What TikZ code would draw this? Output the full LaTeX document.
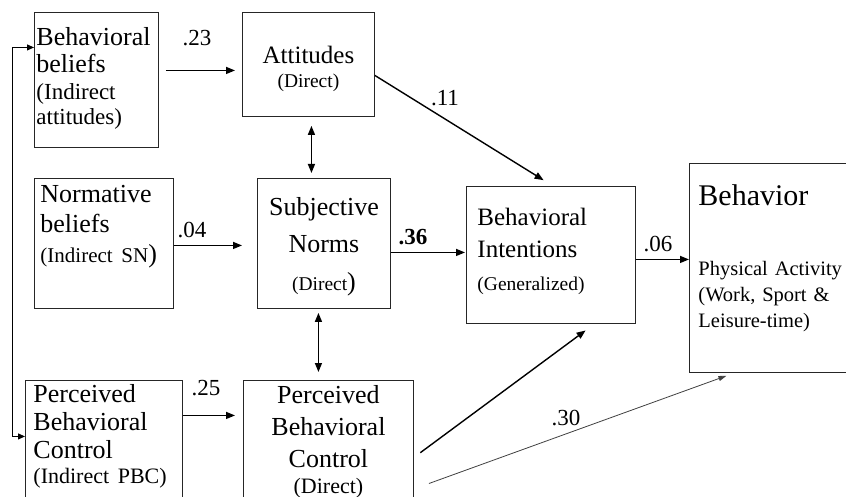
\documentclass[tikz,border=0pt]{standalone}
\usepackage{fontspec}
\setmainfont{Liberation Serif}
\usetikzlibrary{arrows.meta}
\newcommand{\sz}[2]{\fontsize{#1}{#2}\selectfont}

\begin{document}
\begin{tikzpicture}[x=1pt,y=-1pt,
  blk/.style={draw=black!85,line width=0.9pt,inner ysep=0pt,anchor=north west},
  coef/.style={font=\sz{23}{23}},
  arr/.style={-{Triangle[length=9pt,width=7pt]},line width=1.4pt},
  dbl/.style={{Triangle[length=9pt,width=7pt]}-{Triangle[length=9pt,width=7pt]},line width=1.4pt}
]
\useasboundingbox (0,0) rectangle (846,497);
% ---- indirect measures
\node[blk,inner xsep=2pt,text width=120pt,align=left,text height=33pt,text depth=102pt,font=\sz{26}{27}]
  (bb) at (34,12) {Behavioral\\beliefs\\{\sz{23}{27}(Indirect\\[-2pt]attitudes)}};
\node[blk,inner xsep=6pt,text width=127pt,align=left,text height=24pt,text depth=106pt,font=\sz{26}{30}]
  (nb) at (34,178) {Normative\\beliefs\\{\sz{21}{30}(Indirect SN})};
\node[blk,inner xsep=8pt,text width=141pt,align=left,text height=22pt,text depth=140pt,font=\sz{26}{28}]
  (pbci) at (25,380) {Perceived\\Behavioral\\Control\\[-3pt]{\sz{22}{28}(Indirect PBC)}};
% ---- direct measures
\node[blk,inner xsep=2pt,text width=128pt,align=center,text height=51pt,text depth=53pt,font=\sz{25}{24}]
  (att) at (242,12) {Attitudes\\{\sz{19.5}{24}(Direct)}};
\node[blk,inner xsep=2pt,text width=129pt,align=center,text height=37pt,text depth=93pt,font=\sz{26}{37.5}]
  (sn) at (257,178) {Subjective\\Norms\\{\sz{19.5}{37.5}(Direct})};
\node[blk,inner xsep=2pt,text width=166pt,align=center,text height=23pt,text depth=140pt,font=\sz{26}{32}]
  (pbcd) at (243,380) {Perceived\\Behavioral\\Control\\[-6pt]{\sz{22}{32}(Direct)}};
% ---- intentions and behaviour
\node[blk,inner xsep=11pt,text width=147pt,align=left,text height=39pt,text depth=98pt,font=\sz{25}{32.5}]
  (bi) at (466,186) {Behavioral\\Intentions\\{\sz{19.5}{32.5}(Generalized)}};
\node[blk,inner xsep=9pt,text width=152pt,align=left,text height=42pt,text depth=167pt,font=\sz{20.5}{26}]
  (beh) at (689,163) {{\sz{30}{30}Behavior}\\[44pt]Physical Activity\\(Work, Sport \&\\Leisure-time)};
% ---- paths
\draw[arr,shorten <=7pt,shorten >=7pt] ([yshift=9.5pt]bb.east) -- ([yshift=-6pt]att.west);
\draw[arr,shorten >=11pt] ([yshift=-11pt]att.east) -- ([xshift=2pt]bi.north);
\draw[dbl,shorten <=9pt,shorten >=5pt] ([xshift=3pt]att.south) -- ([xshift=-12.5pt]sn.north);
\draw[arr,shorten >=15pt] ([yshift=-2pt]nb.east) -- ([yshift=-2pt]sn.west);
\draw[arr,shorten >=1pt] ([yshift=-9pt]sn.east) -- ([yshift=2.5pt]bi.west);
\draw[arr] ([yshift=-4.5pt]bi.east) -- ([yshift=8.5pt]beh.west);
\draw[dbl,shorten <=4pt,shorten >=8pt] ([xshift=-5.5pt]sn.south) -- ([xshift=-10pt]pbcd.north);
\draw[arr,shorten >=8pt] ([yshift=46pt]pbci.east) -- ([yshift=46.5pt]pbcd.west);
\draw[arr,shorten <=8pt,shorten >=11pt] ([yshift=4.5pt]pbcd.east) -- ([xshift=43.5pt]bi.south);
\draw[-{Triangle[length=8pt,width=5pt]},line width=0.8pt,black!75,shorten <=16pt,shorten >=8.5pt]
  ([yshift=-27pt]pbcd.east) -- ([xshift=-40pt]beh.south);
% feedback line
\draw[{Triangle[length=7pt,width=6pt]}-{Triangle[length=7pt,width=6pt]},line width=1pt]
  ([yshift=25pt]pbci.west) -- ++(-13,0) |- ([yshift=32.5pt]bb.west);
% ---- coefficients
\node[coef] (c23) at (197,38) {.23};
\node[coef] (c11) at (445,98) {.11};
\node[coef] (c04) at (192,230) {.04};
\node[coef,font=\sz{23}{23}\bfseries] (c36) at (413,237) {.36};
\node[coef] (c06) at (658,244) {.06};
\node[coef] (c25) at (206,388) {.25};
\node[coef] (c30) at (566,418) {.30};
\end{tikzpicture}
\end{document}
